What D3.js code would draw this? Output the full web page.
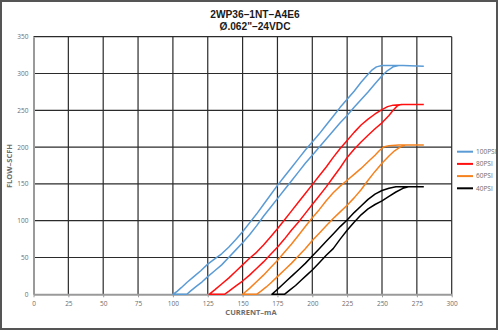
<!DOCTYPE html>
<html>
<head>
<meta charset="utf-8">
<script src="https://cdn.jsdelivr.net/npm/d3@7"></script>
<style>
  body { margin: 0; background: #fff; }
  svg { display: block; font-family: "Open Sans", "DejaVu Sans", sans-serif; }
</style>
</head>
<body>
<div id="frame1"></div>
<script>
// chart values
const xTicks = [0, 25, 50, 75, 100, 125, 150, 175, 200, 225, 250, 275, 300];
const yTicks = [0, 50, 100, 150, 200, 250, 300, 350];
const pressures = ["100PSI", "80PSI", "60PSI", "40PSI"];
const colors = ["#5b9bd5", "#ff1010", "#f5821f", "#000000"];

// left (lower current) branch of each loop: current mA / flow SCFH
const psi100UpX = [100,103,106,110,115,120,125,130,135,140,145,150,155,160,165,170,175,180,185,190,195,200,205,210,215,220,225,230,235,240,243,246,250,265,280];
const psi100UpY = [0,4,9,16,24,32,41,48,55,64,74,85,97,109,122,135,148,160,172,184,196,207,218,230,242,254,265,276,288,299,305,309,311,311,310];
const psi100DnX = [262,258,254,250,245,240,230,225,220,210,200,195,190,185,180,175,170,165,160,155,150,145,140,135,130,125,121,117,113,110];
const psi100DnY = [311,309,304,297,286,275,254,243,233,211,189,178,166,154,142,130,118,106,93,81,70,60,50,40,32,24,17,11,5,0];

const psi80UpX = [126,130,135,140,145,150,155,160,165,170,175,180,185,190,195,200,205,210,215,220,225,230,235,240,245,250,254,258,265,280];
const psi80UpY = [0,6,14,22,31,40,49,57,67,78,89,101,113,125,137,149,161,173,186,198,209,220,230,238,245,251,255,257,258,258];
const psi80DnX = [264,261,258,255,250,245,240,235,230,225,220,215,210,205,200,195,190,185,180,175,170,165,160,155,150,145,140,137];
const psi80DnY = [258,256,250,243,233,225,216,207,197,186,172,159,146,134,122,110,98,87,75,64,54,44,35,26,18,11,4,0];

const psi60UpX = [150,155,160,165,170,175,180,185,190,195,200,205,210,215,220,225,230,235,240,245,248,251,255,262,280];
const psi60UpY = [0,8,17,26,36,46,57,68,80,92,104,115,127,138,147,155,163,171,180,189,195,200,202,203,203];
const psi60DnX = [267,263,259,255,250,245,240,235,230,225,220,215,210,205,200,195,190,185,180,175,170,167,163,160];
const psi60DnY = [203,200,195,188,178,167,155,142,131,121,112,103,93,83,73,62,52,42,33,24,15,10,4,0];

const psi40UpX = [171,174,178,182,186,190,195,200,205,210,215,220,225,230,235,240,245,250,255,260,280];
const psi40UpY = [0,5,12,19,26,33,42,52,62,72,82,92,101,111,120,129,136,141,144,146,146];
const psi40DnX = [269,265,260,255,250,245,240,235,230,225,220,215,210,205,200,196,192,188,184,180];
const psi40DnY = [146,144,139,133,127,122,116,108,98,87,75,62,53,43,33,26,19,12,6,0];

// each loop: falling branch down to 0, then along the axis to the rising branch
function loop(upX, upY, dnX, dnY) {
  const pts = dnX.map((d, i) => [d, dnY[i]]);
  return pts.concat(upX.map((d, i) => [d, upY[i]]));
}
const loops = [
  loop(psi100UpX, psi100UpY, psi100DnX, psi100DnY),
  loop(psi80UpX, psi80UpY, psi80DnX, psi80DnY),
  loop(psi60UpX, psi60UpY, psi60DnX, psi60DnY),
  loop(psi40UpX, psi40UpY, psi40DnX, psi40DnY)
];

const W = 500, H = 331;
const margin = {top: 36.7, right: 48.3, bottom: 36.7, left: 33.5},
      width = W - margin.left - margin.right,
      height = H - margin.top - margin.bottom;

const svg = d3.select("#frame1")
  .append("svg")
  .attr("width", W)
  .attr("height", H);

// outer frame
svg.append("rect")
  .attr("x", 1).attr("y", 1)
  .attr("width", 496).attr("height", 328)
  .attr("fill", "none")
  .attr("stroke", "#555")
  .attr("stroke-width", 2);

const g = svg.append("g")
  .attr("transform", `translate(${margin.left}, ${margin.top})`);

const x = d3.scaleLinear().domain([0, 300]).range([0, width]);
const y = d3.scaleLinear().domain([0, 350]).range([height, 0]);

// grid
g.append("g")
  .selectAll("line")
  .data(xTicks.slice(1))
  .join("line")
    .attr("x1", d => x(d)).attr("x2", d => x(d))
    .attr("y1", 0).attr("y2", height)
    .attr("stroke", "#2b2b2b")
    .attr("stroke-width", 1.2);
g.append("g")
  .selectAll("line")
  .data(yTicks.slice(1))
  .join("line")
    .attr("x1", 0).attr("x2", width)
    .attr("y1", d => y(d)).attr("y2", d => y(d))
    .attr("stroke", "#2b2b2b")
    .attr("stroke-width", 1.2);

// axes
const xAxis = g.append("g")
  .attr("transform", `translate(0,${height})`)
  .call(d3.axisBottom(x).tickValues(xTicks).tickSize(3).tickSizeOuter(0));
const yAxis = g.append("g")
  .call(d3.axisLeft(y).tickValues(yTicks).tickSize(0).tickPadding(5));
[xAxis, yAxis].forEach(a => {
  a.select(".domain").attr("stroke", "#9a9a9a").attr("stroke-width", 2);
  a.selectAll(".tick line").attr("stroke", "#9a9a9a");
  a.selectAll("text")
    .attr("fill", "#6d6d6d")
    .attr("font-size", 6.5)
    .attr("font-family", "'Open Sans', sans-serif");
});
xAxis.selectAll("text").attr("dy", "0.9em");

// curves
const line = d3.line()
  .x(d => x(d[0]))
  .y(d => y(d[1]));
g.append("g")
  .selectAll("path")
  .data(loops)
  .join("path")
    .attr("d", line)
    .attr("fill", "none")
    .attr("stroke", (d, i) => colors[i])
    .attr("stroke-width", 1.5)
    .attr("stroke-linejoin", "round");

// titles
const titleFont = "'Liberation Sans', Arial, sans-serif";
svg.append("text")
  .attr("x", 255).attr("y", 18.3)
  .attr("text-anchor", "middle")
  .attr("font-family", titleFont)
  .attr("font-size", 10.2).attr("font-weight", "bold")
  .attr("fill", "#1a1a1a")
  .text("2WP36–1NT–A4E6");
svg.append("text")
  .attr("x", 255).attr("y", 29.8)
  .attr("text-anchor", "middle")
  .attr("font-family", titleFont)
  .attr("font-size", 10.2).attr("font-weight", "bold")
  .attr("fill", "#1a1a1a")
  .text("Ø.062\"–24VDC");

svg.append("text")
  .attr("x", 251).attr("y", 315)
  .attr("text-anchor", "middle")
  .attr("font-size", 7.5).attr("font-weight", "bold")
  .attr("fill", "#6d6d6d")
  .text("CURRENT–mA");
svg.append("text")
  .attr("transform", "translate(12,166)rotate(-90)")
  .attr("text-anchor", "middle")
  .attr("font-size", 7.5).attr("font-weight", "bold")
  .attr("fill", "#6d6d6d")
  .text("FLOW–SCFH");

// legend
const legend = svg.append("g")
  .selectAll("g")
  .data(pressures)
  .join("g")
    .attr("transform", (d, i) => `translate(457,${151.7 + i * 12.2})`);
legend.append("line")
  .attr("x1", 0).attr("x2", 16)
  .attr("stroke", (d, i) => colors[i])
  .attr("stroke-width", 2);
legend.append("text")
  .attr("x", 19).attr("dy", "0.35em")
  .attr("font-size", 6.5)
  .attr("fill", "#6d6d6d")
  .text(d => d);
</script>
</body>
</html>
